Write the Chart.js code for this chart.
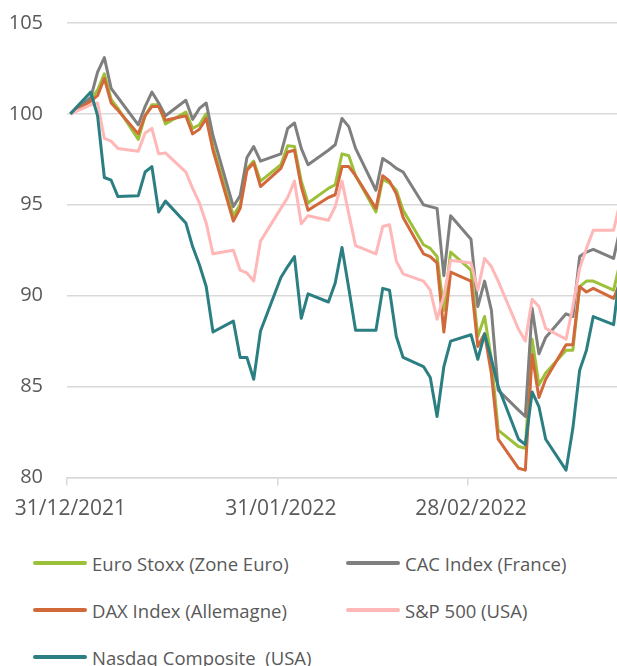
<!DOCTYPE html>
<html>
<head>
<meta charset="utf-8">
<script src="https://cdn.jsdelivr.net/npm/chart.js@4.4.1/dist/chart.umd.min.js"></script>
<style>
  body { margin: 0; background: #fff; font-family: 'Open Sans', sans-serif; }
  #wrap { position: relative; width: 617px; height: 666px; overflow: hidden; }
  #chartBox { position: absolute; left: 0; top: 0; width: 617px; height: 532px; }
  .legend-item { position: absolute; display: flex; align-items: center; font-size: 18.5px; color: #595959; white-space: pre; }
  .legend-item span.swatch { display: inline-block; width: 54px; height: 4px; border-radius: 2px; margin-right: 5px; }
</style>
</head>
<body>
<div id="wrap">
  <div id="chartBox"><canvas id="perfChart"></canvas></div>
  <div id="legend"></div>
</div>
<script>
// Trading days (base 100 on 31/12/2021)
const dates = [
  '2021-12-31',
  '2022-01-03', '2022-01-04', '2022-01-05', '2022-01-06', '2022-01-07',
  '2022-01-10', '2022-01-11', '2022-01-12', '2022-01-13', '2022-01-14',
  '2022-01-17', '2022-01-18', '2022-01-19', '2022-01-20', '2022-01-21',
  '2022-01-24', '2022-01-25', '2022-01-26', '2022-01-27', '2022-01-28',
  '2022-01-31', '2022-02-01', '2022-02-02', '2022-02-03', '2022-02-04',
  '2022-02-07', '2022-02-08', '2022-02-09', '2022-02-10', '2022-02-11',
  '2022-02-14', '2022-02-15', '2022-02-16', '2022-02-17', '2022-02-18',
  '2022-02-21', '2022-02-22', '2022-02-23', '2022-02-24', '2022-02-25',
  '2022-02-28', '2022-03-01', '2022-03-02', '2022-03-03', '2022-03-04',
  '2022-03-07', '2022-03-08', '2022-03-09', '2022-03-10', '2022-03-11',
  '2022-03-14', '2022-03-15', '2022-03-16', '2022-03-17', '2022-03-18',
  '2022-03-21', '2022-03-22'
];

const tickDates = ['2021-12-31', '2022-01-31', '2022-02-28'];
const tickLabels = ['31/12/2021', '31/01/2022', '28/02/2022'];
const yTicks = [80, 85, 90, 95, 100, 105];

const seriesNames = ['Euro Stoxx (Zone Euro)', 'CAC Index (France)', 'DAX Index (Allemagne)', 'S&P 500 (USA)', 'Nasdaq Composite  (USA)'];
const seriesColors = ['#9dc03a', '#7f7f7f', '#d2693a', '#ffb7b7', '#2b7f82'];

const euroStoxx = [
  100, 100.8, 101.3, 102.2, 100.8, 100.3,
  98.6, 99.9, 100.5, 100.5, 99.45,
  100.1, 99.2, 99.4, 100.0, 98.2,
  94.4, 95.0, 97.0, 97.4, 96.3,
  97.2, 98.25, 98.2, 96.3, 95.1,
  95.9, 96.1, 97.8, 97.7, 96.6,
  94.6, 96.4, 96.2, 95.8, 94.7,
  92.8, 92.6, 92.15, 89.2, 92.4,
  91.4, 87.75, 88.85, 86.5, 82.6,
  81.7, 81.6, 87.6, 85.1, 85.75,
  87.0, 87.0, 90.5, 90.8, 90.8,
  90.3, 91.9
];

const cac = [
  100, 100.9, 102.3, 103.1, 101.4, 100.9,
  99.4, 100.4, 101.2, 100.6, 99.9,
  100.75, 99.7, 100.3, 100.6, 98.8,
  94.9, 95.5, 97.6, 98.2, 97.4,
  97.8, 99.2, 99.5, 98.1, 97.2,
  98.0, 98.3, 99.75, 99.3, 98.1,
  95.8, 97.55, 97.3, 97.0, 96.8,
  95.0, 94.9, 94.8, 91.1, 94.4,
  93.1, 89.4, 90.8, 89.2, 84.8,
  83.7, 83.35, 89.3, 86.8, 87.7,
  89.0, 88.85, 92.15, 92.4, 92.55,
  92.05, 93.75
];

const dax = [
  100, 100.7, 101.0, 101.95, 100.6, 100.2,
  98.9, 99.9, 100.4, 100.4, 99.65,
  99.9, 98.9, 99.15, 99.75, 98.0,
  94.1, 94.8, 96.9, 97.3, 96.0,
  97.0, 97.9, 98.0, 96.0, 94.7,
  95.4, 95.55, 97.1, 97.1, 96.6,
  94.8, 96.6, 96.3, 95.6, 94.3,
  92.3, 92.15, 91.8, 88.0, 91.3,
  90.8, 87.2, 87.9, 85.7, 82.1,
  80.5, 80.4, 86.75, 84.4, 85.4,
  87.3, 87.3, 90.5, 90.2, 90.4,
  89.85, 90.75
];

const sp500 = [
  100, 100.5, 100.6, 98.65, 98.5, 98.1,
  97.95, 98.95, 99.2, 97.8, 97.85,
  96.8, 95.9, 95.1, 94.0, 92.3,
  92.5, 91.4, 91.25, 90.8, 93.0,
  94.8, 95.4, 96.3, 93.95, 94.4,
  94.15, 94.9, 96.3, 94.5, 92.75,
  92.3, 93.8, 93.9, 91.9, 91.2,
  90.8, 90.3, 88.7, 90.0, 91.95,
  91.8, 90.3, 92.05, 91.6, 90.8,
  88.15, 87.5, 89.8, 89.4, 88.2,
  87.6, 89.4, 91.5, 92.6, 93.6,
  93.6, 95.2
];

const nasdaq = [
  100, 101.2, 99.9, 96.5, 96.35, 95.45,
  95.5, 96.8, 97.1, 94.6, 95.2,
  94.0, 92.7, 91.7, 90.5, 88.0,
  88.6, 86.6, 86.6, 85.4, 88.05,
  91.0, 91.6, 92.15, 88.75, 90.1,
  89.65, 90.7, 92.65, 90.4, 88.1,
  88.1, 90.4, 90.3, 87.75, 86.6,
  86.1, 85.5, 83.35, 86.1, 87.5,
  87.85, 86.5, 87.9, 86.5, 85.0,
  82.1, 81.8, 84.7, 83.9, 82.1,
  80.4, 82.7, 85.9, 87.0, 88.85,
  88.4, 91.5
];

const seriesValues = [euroStoxx, cac, dax, sp500, nasdaq];

// days since the first date (date axis like Excel)
function dayOffset(d) {
  return Math.round((Date.parse(d) - Date.parse(dates[0])) / 86400000);
}
const xDays = dates.map(dayOffset);
const tickDays = tickDates.map(dayOffset);

Chart.defaults.font.family = "'Open Sans', sans-serif";
Chart.defaults.color = '#595959';

const datasets = seriesNames.map((name, i) => ({
  label: name,
  data: seriesValues[i].map((v, j) => ({ x: xDays[j], y: v })),
  borderColor: seriesColors[i],
  backgroundColor: seriesColors[i],
  borderWidth: 3,
  pointRadius: 0,
  tension: 0,
  borderJoinStyle: 'round',
  order: seriesNames.length - i
}));

const ctx = document.getElementById('perfChart').getContext('2d');
const perfChart = new Chart(ctx, {
  type: 'line',
  data: { datasets: datasets },
  options: {
    responsive: true,
    maintainAspectRatio: false,
    animation: false,
    layout: { padding: 0 },
    plugins: {
      legend: { display: false },
      tooltip: { enabled: false }
    },
    scales: {
      x: {
        type: 'linear',
        min: -0.5,
        max: 80.5,
        afterBuildTicks: function(scale) {
          // tick marks sit on slot boundaries, labels on slot centre
          scale.ticks = tickDays.map(d => ({ value: d - 0.5 }));
        },
        afterFit: function(scale) {
          scale.paddingLeft = 0;
          scale.paddingRight = 0;
        },
        grid: {
          drawOnChartArea: false,
          drawTicks: true,
          tickLength: 8,
          color: '#d9d9d9',
          lineWidth: 1.5
        },
        border: { display: true, color: '#d9d9d9', width: 1.5 },
        ticks: {
          autoSkip: false,
          maxRotation: 0,
          padding: 10.7,
          labelOffset: 3.4,
          font: { size: 21 },
          color: '#595959',
          callback: function(value, index) {
            return tickLabels[index];
          }
        }
      },
      y: {
        min: 80,
        max: 105,
        afterBuildTicks: function(scale) {
          scale.ticks = yTicks.map(v => ({ value: v }));
        },
        afterFit: function(scale) {
          scale.width = 67;
          scale.paddingTop = 23;
          scale.paddingBottom = 12;
        },
        grid: {
          drawTicks: false,
          color: '#d9d9d9',
          lineWidth: 1.5
        },
        border: { display: false },
        ticks: {
          padding: 24,
          font: { size: 20 },
          color: '#595959'
        }
      }
    }
  }
});

// Legend (two columns, like the original)
const legendPos = [
  { left: 33, top: 563 }, { left: 346, top: 563 },
  { left: 33, top: 610 }, { left: 346, top: 610 },
  { left: 33, top: 657 }
];
const legendEl = document.getElementById('legend');
seriesNames.forEach((name, i) => {
  const item = document.createElement('div');
  item.className = 'legend-item';
  item.style.left = legendPos[i].left + 'px';
  item.style.top = (legendPos[i].top - 13) + 'px';
  item.style.height = '26px';
  item.innerHTML = '<span class="swatch" style="background:' + seriesColors[i] + '"></span>';
  item.appendChild(document.createTextNode(name));
  legendEl.appendChild(item);
});
</script>
</body>
</html>
